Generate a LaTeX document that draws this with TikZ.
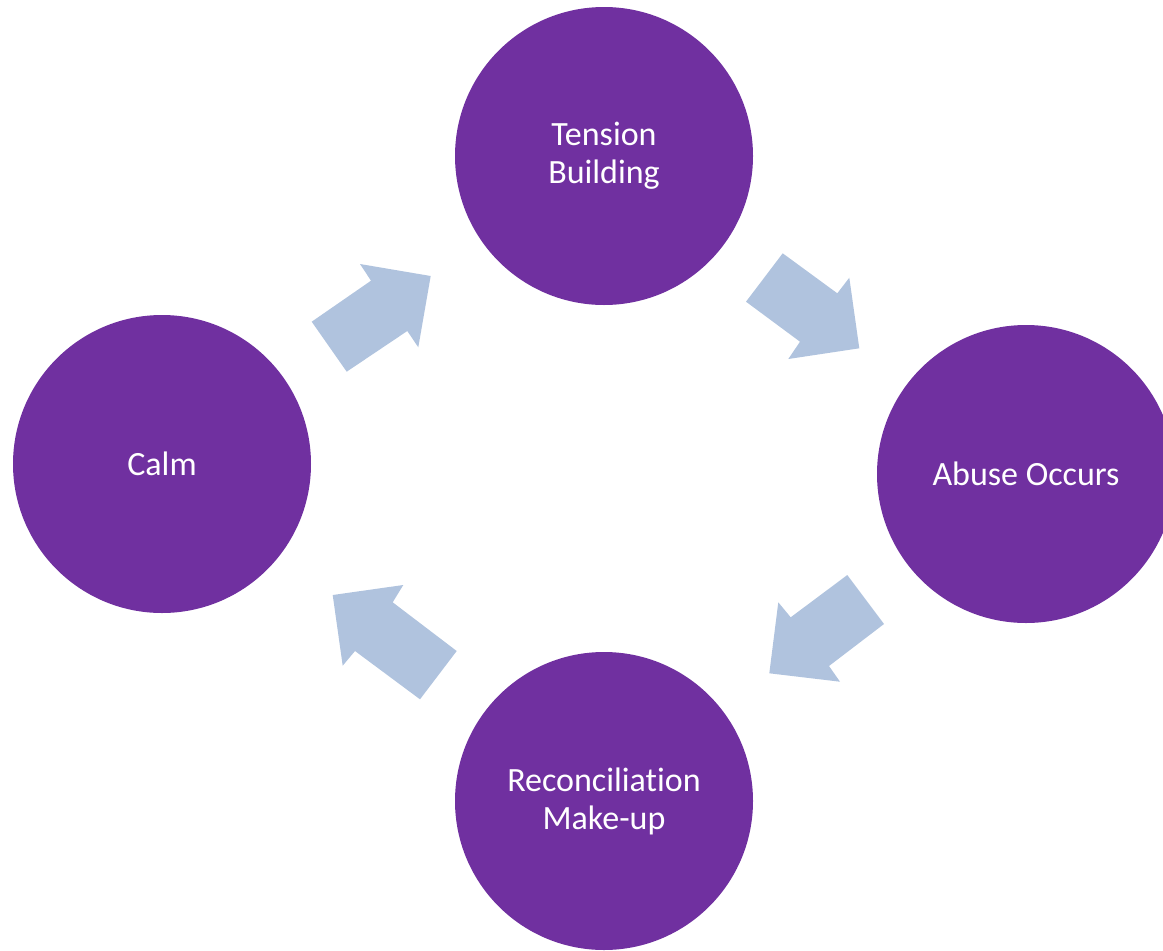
\documentclass[tikz,border=0pt]{standalone}
\usepackage{fontspec}
\setmainfont[Ligatures=NoCommon]{Carlito}
\definecolor{stagepurple}{HTML}{7030A0}
\definecolor{arrowblue}{HTML}{B0C3DE}
\begin{document}
\begin{tikzpicture}[x=1pt,y=-1pt,
  stage/.style={circle, fill=stagepurple, draw=none, minimum size=298pt, inner sep=0pt,
    text=white, align=center, font=\fontsize{34}{38}\selectfont},
  blockarrow/.style={fill=arrowblue, draw=none}]
\useasboundingbox (0,0) rectangle (1163,951);
\clip (0,0) rectangle (1163,951);
\node[stage] (tension) at (604,156) {Tension\\Building};
\node[stage] (abuse) at (1026,474) {Abuse Occurs};
\node[stage] (recon) at (604,801) {Reconciliation\\Make-up};
\node[stage] (calm) at (162,464) {Calm};
% Calm -> Tension
\fill[blockarrow] (311.7,321.7) -- (371,280.7) -- (360,264) -- (430.7,276) -- (418.3,347.3) -- (407.3,331) -- (346.7,371.7) -- cycle;
% Tension -> Abuse
\fill[blockarrow] (746,301.7) -- (782.7,253.3) -- (837.3,293.3) -- (849.3,277.7) -- (859.3,348.3) -- (788.3,359) -- (800,341.7) -- cycle;
% Abuse -> Reconciliation
\fill[blockarrow] (847.3,575) -- (884,624) -- (829,666) -- (840,681.7) -- (769.3,673.3) -- (778.3,602.3) -- (790.7,617.3) -- cycle;
% Reconciliation -> Calm
\fill[blockarrow] (456.7,651) -- (420,699.3) -- (355,651) -- (342.7,665.7) -- (332.7,595) -- (403.3,585) -- (392.7,602.3) -- cycle;
\end{tikzpicture}
\end{document}
